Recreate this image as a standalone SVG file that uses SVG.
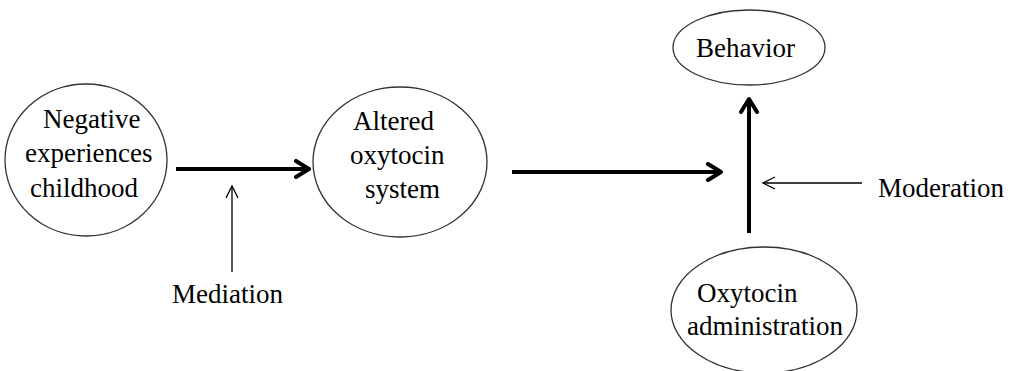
<svg xmlns="http://www.w3.org/2000/svg" width="1013" height="371" viewBox="0 0 1013 371">
<style>
.n{fill:#fff;stroke:#333;stroke-width:1.3}
.t{font-family:"Liberation Serif","Times New Roman",serif;font-size:27px;fill:#000}
.thick{stroke:#000;stroke-width:4;fill:none;marker-end:url(#ahThick)}
.thin{stroke:#000;stroke-width:1.3;fill:none;marker-end:url(#ahThin)}
</style>
<defs>
<marker id="ahThick" viewBox="0 0 20 20" refX="15" refY="10" markerWidth="20" markerHeight="20" markerUnits="userSpaceOnUse" orient="auto">
<path d="M2,2 L15,10 L2,18" fill="none" stroke="#000" stroke-width="4" stroke-linecap="round" stroke-linejoin="round"/>
</marker>
<marker id="ahThin" viewBox="0 0 16 16" refX="14" refY="8" markerWidth="16" markerHeight="16" markerUnits="userSpaceOnUse" orient="auto">
<path d="M2,2 L14,8 L2,14" fill="none" stroke="#000" stroke-width="1.3"/>
</marker>
</defs>
<rect width="1013" height="371" fill="#fff"/>
<g id="connectors">
<line class="thick" x1="176" y1="169" x2="309" y2="169"/>
<line class="thick" x1="512" y1="172" x2="721" y2="172"/>
<line class="thick" x1="749" y1="233" x2="749" y2="99"/>
<line class="thin" x1="232" y1="272" x2="232" y2="186"/>
<line class="thin" x1="862" y1="183" x2="763" y2="183"/>
</g>
<g id="n1">
<ellipse class="n" cx="86" cy="160" rx="81" ry="76"/>
<text class="t" x="43" y="128">Negative</text>
<text class="t" x="25" y="162">experiences</text>
<text class="t" x="30" y="197">childhood</text>
</g>
<g id="n2">
<ellipse class="n" cx="400" cy="162" rx="87" ry="75"/>
<text class="t" x="353" y="130">Altered</text>
<text class="t" x="350" y="164">oxytocin</text>
<text class="t" x="365" y="198">system</text>
</g>
<g id="n3">
<ellipse class="n" cx="749" cy="47.5" rx="76" ry="37.5"/>
<text class="t" x="696" y="57">Behavior</text>
</g>
<g id="n4">
<ellipse class="n" cx="764" cy="310" rx="93" ry="63"/>
<text class="t" x="697" y="302">Oxytocin</text>
<text class="t" x="687" y="335">administration</text>
</g>
<g id="labels">
<text class="t" x="172" y="303">Mediation</text>
<text class="t" x="878" y="197">Moderation</text>
</g>
</svg>
